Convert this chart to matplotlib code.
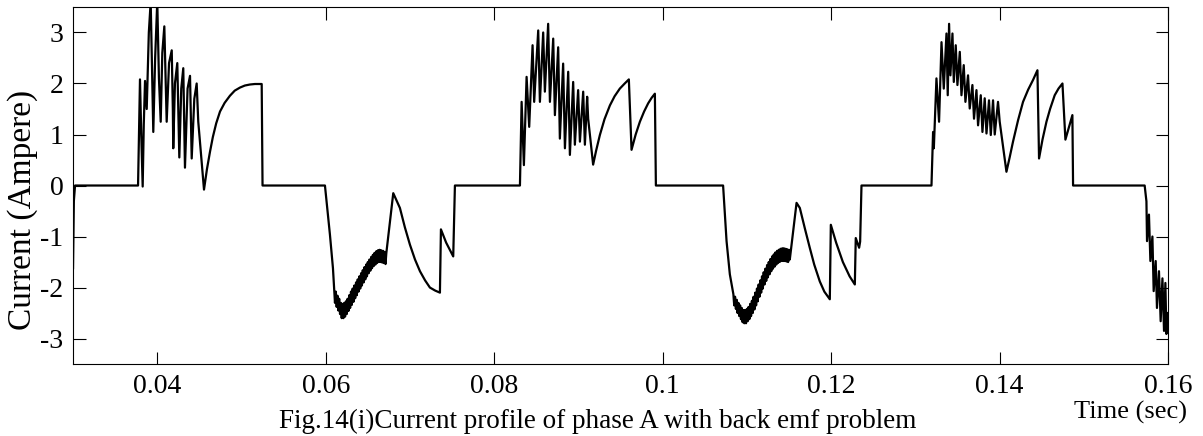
import numpy as np
import matplotlib.pyplot as plt

plt.rcParams['font.family'] = ['Liberation Serif', 'DejaVu Serif']
plt.rcParams['axes.unicode_minus'] = False

# phase A current, time in ms, current in A (segment by segment)
t_start = [30.0, 30.1, 30.24]
i_start = [-1.62, -0.3, 0.0]

t_pos1 = [37.72, 37.95, 38.10, 38.27, 38.40, 38.55, 38.75, 39.0, 39.22, 39.53,
          39.75, 40.0, 40.2, 40.41, 40.6, 40.84, 41.0, 41.12, 41.4, 41.72,
          41.85, 41.9, 42.1, 42.38, 42.5, 42.62, 42.85, 43.09, 43.2, 43.29,
          43.6, 43.89, 44.0, 44.09, 44.4, 44.68, 44.87, 45.55,
          45.9, 46.26, 46.6, 47.0, 47.45, 48.0, 48.63, 49.2, 49.82, 50.4,
          51.0, 51.6, 52.4, 52.5]
i_pos1 = [0.0, 2.08, 1.0, -0.02, 1.2, 2.05, 1.5, 3.0, 3.6, 1.05,
          2.5, 3.6, 2.1, 1.25, 2.6, 3.12, 2.0, 1.25, 2.4, 2.65,
          1.5, 0.73, 2.0, 2.4, 1.5, 0.55, 1.9, 2.3, 1.2, 0.35,
          1.9, 2.15, 1.3, 0.53, 1.7, 2.0, 1.25, -0.08,
          0.32, 0.66, 0.95, 1.22, 1.45, 1.62, 1.76, 1.86, 1.92, 1.96,
          1.98, 1.99, 1.99, 0.0]

t_neg1 = [59.91, 60.5, 60.86,
          61.0, 61.1, 61.2, 61.3, 61.4, 61.5, 61.6, 61.7, 61.8, 61.9,
          62.0, 62.1, 62.2, 62.3, 62.4, 62.5, 62.6, 62.7, 62.8, 62.9,
          63.0, 63.1, 63.2, 63.3, 63.4, 63.5, 63.6, 63.7, 63.8, 63.9,
          64.0, 64.1, 64.2, 64.3, 64.4, 64.5, 64.6, 64.7, 64.8, 64.9,
          65.0, 65.1, 65.2, 65.3, 65.4, 65.5, 65.6, 65.7, 65.8, 65.9,
          66.0, 66.1, 66.2, 66.3, 66.4, 66.5, 66.6, 66.7, 66.8, 66.9,
          67.0, 67.1, 67.2,
          68.02, 68.81, 69.4, 70.0, 70.6, 71.19, 71.8, 72.37, 73.0, 73.56,
          73.68, 74.3, 75.14, 75.34]
i_neg1 = [0.0, -0.96, -1.62,
          -2.00, -2.30, -2.08, -2.38, -2.16, -2.45, -2.22, -2.52, -2.30, -2.60,
          -2.32, -2.60, -2.30, -2.57, -2.27, -2.52, -2.22, -2.46, -2.15, -2.40,
          -2.08, -2.34, -2.02, -2.28, -1.96, -2.21, -1.90, -2.15, -1.84, -2.08,
          -1.78, -2.02, -1.72, -1.96, -1.66, -1.90, -1.60, -1.84, -1.55, -1.78,
          -1.50, -1.72, -1.45, -1.67, -1.40, -1.62, -1.36, -1.58, -1.32, -1.55,
          -1.29, -1.52, -1.27, -1.50, -1.26, -1.50, -1.27, -1.51, -1.28, -1.52,
          -1.30, -1.54, -1.32,
          -0.15, -0.44, -0.82, -1.16, -1.45, -1.68, -1.86, -2.0, -2.06, -2.1,
          -0.86, -1.12, -1.39, 0.0]

t_pos2 = [83.06, 83.26, 83.53, 83.85, 84.16, 84.56, 84.75, 85.23, 85.43, 85.82,
          86.02, 86.41, 86.62, 87.01, 87.21, 87.60, 87.80, 88.19, 88.40, 88.79,
          88.99, 89.38, 89.58, 89.97, 90.18, 90.57, 90.77, 91.04, 91.16, 91.75,
          92.1, 92.55, 93.1, 93.74, 94.3, 94.92, 95.5, 95.99,
          96.31, 96.8, 97.30, 97.8, 98.28, 98.7, 99.08, 99.20]
i_pos2 = [0.0, 1.64, 0.4, 2.13, 1.15, 2.75, 1.64, 3.04, 1.64, 3.0,
          1.84, 3.17, 1.64, 2.88, 1.38, 2.71, 0.92, 2.39, 0.73, 2.23,
          0.6, 2.03, 0.8, 1.87, 0.86, 1.84, 0.8, 1.74, 1.31, 0.41,
          0.68, 0.99, 1.3, 1.57, 1.75, 1.9, 2.0, 2.08,
          0.7, 1.0, 1.25, 1.45, 1.61, 1.72, 1.8, 0.0]

t_neg2 = [107.18, 107.39, 107.59, 107.98,
          108.4, 108.5, 108.6, 108.7, 108.8, 108.9, 109.0, 109.1, 109.2, 109.3,
          109.4, 109.5, 109.6, 109.7, 109.8, 109.9, 110.0, 110.1, 110.2, 110.3,
          110.4, 110.5, 110.6, 110.7, 110.8, 110.9, 111.0, 111.1, 111.2, 111.3,
          111.4, 111.5, 111.6, 111.7, 111.8, 111.9, 112.0, 112.1, 112.2, 112.3,
          112.4, 112.5, 112.6, 112.7, 112.8, 112.9, 113.0, 113.1, 113.2, 113.3,
          113.4, 113.5, 113.6, 113.7, 113.8, 113.9, 114.0, 114.1, 114.2, 114.3,
          114.4, 114.5, 114.6, 114.7, 114.8, 114.9, 115.0, 115.1,
          115.9, 116.29, 116.9, 117.47, 118.0, 118.66, 119.2, 119.85,
          119.97, 120.6, 121.4, 122.2, 122.82, 122.93, 123.33, 123.45, 123.61]
i_neg2 = [0.0, -0.57, -1.09, -1.74,
          -2.13, -2.35, -2.18, -2.42, -2.24, -2.50, -2.30, -2.56, -2.35, -2.62,
          -2.40, -2.68, -2.44, -2.70, -2.44, -2.70, -2.42, -2.66, -2.38, -2.62,
          -2.32, -2.56, -2.26, -2.50, -2.18, -2.43, -2.10, -2.35, -2.02, -2.27,
          -1.94, -2.18, -1.86, -2.10, -1.78, -2.02, -1.70, -1.94, -1.63, -1.87,
          -1.56, -1.80, -1.50, -1.74, -1.44, -1.68, -1.39, -1.63, -1.35, -1.59,
          -1.31, -1.55, -1.28, -1.52, -1.26, -1.50, -1.24, -1.48, -1.23, -1.48,
          -1.23, -1.48, -1.24, -1.49, -1.25, -1.50, -1.26, -1.45,
          -0.34, -0.44, -0.85, -1.22, -1.55, -1.88, -2.08, -2.23,
          -0.77, -1.12, -1.5, -1.78, -1.94, -1.03, -1.22, -1.1, 0.0]

t_pos3 = [131.92, 132.0, 132.11, 132.2, 132.51, 132.82, 133.11, 133.38, 133.70, 133.85,
          134.01, 134.17, 134.41, 134.57, 134.80, 135.00, 135.28, 135.48, 135.75, 135.95,
          136.26, 136.46, 136.78, 136.97, 137.26, 137.45, 137.77, 137.97, 138.24, 138.45,
          138.75, 138.96, 139.23, 139.43, 139.82, 140.02, 140.82,
          141.2, 141.60, 142.2, 142.79, 143.4, 143.98, 144.50,
          144.69, 145.1, 145.57, 146.0, 146.55, 147.0, 147.47, 147.82, 148.65, 148.73]
i_pos3 = [0.0, 0.47, 1.05, 0.73, 2.1, 1.25, 2.81, 1.9, 2.98, 1.77,
          3.17, 2.16, 2.98, 2.03, 2.75, 1.97, 2.62, 1.77, 2.36, 1.64,
          2.16, 1.51, 1.97, 1.31, 1.87, 1.18, 1.77, 1.05, 1.71, 1.02,
          1.67, 0.99, 1.67, 1.0, 1.64, 1.25, 0.27,
          0.55, 0.86, 1.28, 1.64, 1.88, 2.07, 2.26,
          0.53, 0.9, 1.25, 1.5, 1.77, 1.9, 2.0, 0.9, 1.38, 0.0]

t_end = [157.23, 157.44, 157.51, 157.74, 157.91, 158.15, 158.30, 158.54, 158.69, 158.93,
         159.13, 159.34, 159.53, 159.69, 159.81, 160.0]
i_end = [0.0, -0.31, -1.09, -0.57, -1.48, -1.0, -2.07, -1.48, -2.4, -1.68,
         -2.66, -1.82, -2.85, -1.91, -2.91, -2.5]

t_ms = np.concatenate([t_start, t_pos1, t_neg1, t_pos2, t_neg2, t_pos3, t_end])
current = np.concatenate([i_start, i_pos1, i_neg1, i_pos2, i_neg2, i_pos3, i_end])
t = t_ms / 1000.0

fig = plt.figure(figsize=(12.03, 4.36), dpi=100)
ax = fig.add_axes([0.0607, 0.165, 0.9102, 0.819])
ax.plot(t, current, color='black', lw=1.6)

ax.set_xlim(0.03, 0.16)
ax.set_ylim(-3.5, 3.5)
ax.set_xticks([0.04, 0.06, 0.08, 0.1, 0.12, 0.14, 0.16])
ax.set_xticklabels(['0.04', '0.06', '0.08', '0.1', '0.12', '0.14', '0.16'])
ax.set_yticks([-3, -2, -1, 0, 1, 2, 3])
ax.tick_params(direction='in', length=9, width=0.8, top=True, right=True,
               labelsize=20, pad=7)
for s in ax.spines.values():
    s.set_linewidth(0.8)

fig.text(0.019, 0.518, 'Current (Ampere)', rotation=90, ha='center', va='center',
         fontsize=24)
fig.text(0.987, 0.055, 'Time (sec)', ha='right', va='center', fontsize=19)
fig.text(0.497, 0.018, 'Fig.14(i)Current profile of phase A with back emf problem',
         ha='center', va='baseline', fontsize=19.5)

fig.savefig('out.png', dpi=100)
